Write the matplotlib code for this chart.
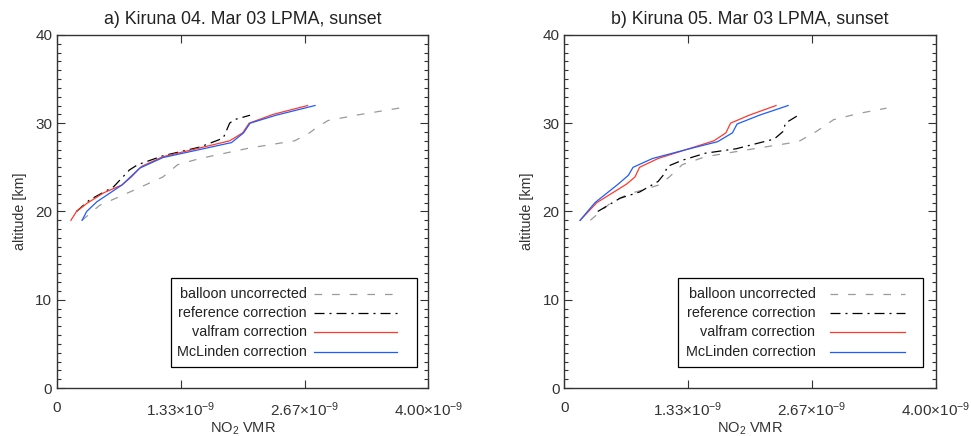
import numpy as np
import matplotlib
matplotlib.use('Agg')
from matplotlib import pyplot as plt
from matplotlib.ticker import FixedLocator, MultipleLocator
from matplotlib.lines import Line2D
from matplotlib.patches import Rectangle

plt.rcParams['font.family'] = ['Liberation Sans', 'DejaVu Sans']
plt.rcParams['mathtext.fontset'] = 'custom'
plt.rcParams['mathtext.rm'] = 'Liberation Sans'
plt.rcParams['mathtext.it'] = 'Liberation Sans'

# ---- panel a) Kiruna 04. Mar 03 (NO2 VMR in 1e-9, altitude in km)
a_ball_x = [0.27, 0.46, 0.70, 1.14, 1.30, 1.54, 2.08, 2.56, 2.72, 2.81, 2.92, 3.22, 3.74]
a_ball_z = [19.0, 20.7, 21.8, 23.9, 25.3, 26.0, 27.2, 28.0, 28.9, 29.6, 30.3, 30.9, 31.8]
a_ref_x = [0.21, 0.35, 0.61, 0.78, 0.87, 1.14, 1.54, 1.79, 1.86, 1.91, 2.08]
a_ref_z = [20.0, 21.3, 22.8, 24.7, 25.3, 26.3, 27.3, 28.3, 30.0, 30.4, 30.9]
a_val_x = [0.15, 0.21, 0.32, 0.50, 0.70, 0.80, 0.91, 1.14, 1.54, 1.86, 2.00, 2.07, 2.33, 2.70]
a_val_z = [19.0, 20.0, 20.9, 22.1, 23.0, 23.9, 25.1, 26.2, 27.2, 28.0, 28.9, 30.0, 31.0, 32.0]
a_mcl_x = [0.27, 0.32, 0.43, 0.70, 0.89, 1.14, 1.88, 2.01, 2.08, 2.36, 2.78]
a_mcl_z = [19.0, 20.0, 21.1, 23.0, 24.9, 26.1, 27.8, 28.9, 30.0, 30.9, 32.0]

# ---- panel b) Kiruna 05. Mar 03
b_ball_x = [0.28, 0.49, 0.67, 1.02, 1.13, 1.27, 1.52, 1.92, 2.52, 2.72, 2.90, 3.17, 3.47]
b_ball_z = [19.0, 20.9, 21.9, 23.0, 23.9, 25.3, 26.2, 26.9, 27.9, 29.1, 30.4, 31.1, 31.7]
b_ref_x = [0.36, 0.60, 0.81, 1.01, 1.08, 1.11, 1.27, 1.52, 1.85, 2.26, 2.36, 2.38, 2.52]
b_ref_z = [20.0, 21.5, 22.2, 23.4, 24.3, 25.1, 25.8, 26.6, 27.1, 28.2, 29.1, 30.0, 30.9]
b_val_x = [0.17, 0.35, 0.67, 0.76, 0.81, 1.01, 1.31, 1.61, 1.74, 1.79, 1.99, 2.28]
b_val_z = [19.0, 21.0, 23.1, 23.9, 25.0, 26.0, 27.0, 28.0, 28.9, 30.0, 30.9, 32.0]
b_mcl_x = [0.17, 0.33, 0.58, 0.69, 0.74, 0.95, 1.31, 1.65, 1.81, 1.86, 2.10, 2.41]
b_mcl_z = [19.0, 21.0, 23.1, 24.1, 25.0, 26.0, 27.0, 27.9, 28.9, 29.9, 30.9, 32.0]

titles = ['a) Kiruna 04. Mar 03 LPMA, sunset', 'b) Kiruna 05. Mar 03 LPMA, sunset']
labels = ['balloon uncorrected', 'reference correction', 'valfram correction', 'McLinden correction']
xticks = [0, 1.333e-9, 2.667e-9, 4.0e-9]
xticklabels = ['0', r'$1.33{\times}10^{-9}$', r'$2.67{\times}10^{-9}$', r'$4.00{\times}10^{-9}$']

styles = [dict(color='#9a9a9a', lw=0.9, dashes=(6.1, 8)),
          dict(color='black', lw=0.9, dashes=(8, 4, 1.6, 4)),
          dict(color='#ff3a2a', lw=0.9),
          dict(color='#1f5cff', lw=0.9)]

panels = [
    [(a_ball_x, a_ball_z), (a_ref_x, a_ref_z), (a_val_x, a_val_z), (a_mcl_x, a_mcl_z)],
    [(b_ball_x, b_ball_z), (b_ref_x, b_ref_z), (b_val_x, b_val_z), (b_mcl_x, b_mcl_z)],
]

fig = plt.figure(figsize=(9.71, 4.36), dpi=100)
ax_pos = [[0.0587, 0.110, 0.3824, 0.810], [0.5812, 0.110, 0.3825, 0.810]]

for i in range(2):
    ax = fig.add_axes(ax_pos[i])
    for (x, z), st in zip(panels[i], styles):
        ax.plot(np.array(x) * 1e-9, z, **st)
    ax.set_xlim(0, 4.0e-9)
    ax.set_ylim(0, 40)
    ax.xaxis.set_major_locator(FixedLocator(xticks))
    ax.set_xticklabels(xticklabels)
    ax.yaxis.set_major_locator(MultipleLocator(10))
    ax.yaxis.set_minor_locator(MultipleLocator(1))
    ax.tick_params(axis='both', which='both', direction='in', top=True, right=True,
                   labelsize=11, labelcolor='#333333', color='#333333')
    ax.tick_params(axis='both', which='major', length=6, width=0.8)
    ax.tick_params(axis='y', which='minor', length=3, width=0.8)
    ax.tick_params(axis='x', which='major', pad=9)
    ax.tick_params(axis='y', which='major', pad=3.5)
    for sp in ax.spines.values():
        sp.set_color('#333333')
        sp.set_linewidth(1.0)
    ax.set_title(titles[i], fontsize=12.8, color='#222222', pad=8)
    ax.set_xlabel(r'NO$_2$ VMR', fontsize=10.5, color='#333333', labelpad=1)
    ax.set_ylabel('altitude [km]', fontsize=10.3, color='#333333', labelpad=6)

    # legend box drawn by hand: labels right aligned, line samples after them
    x0, x1 = (0.307, 0.970) if i == 0 else (0.305, 0.967)
    ax.add_patch(Rectangle((x0, 0.059), x1 - x0, 0.253, transform=ax.transAxes,
                           fill=False, edgecolor='black', lw=0.9, zorder=5))
    rows = [0.266, 0.212, 0.158, 0.103]
    tx = 0.672 if i == 0 else 0.676
    lx0 = 0.692 if i == 0 else 0.714
    for y, lab, st in zip(rows, labels, styles):
        ax.text(tx, y, lab, transform=ax.transAxes, ha='right', va='center',
                fontsize=10.4, color='#222222')
        ax.add_line(Line2D([lx0, 0.916], [y, y], transform=ax.transAxes, **st))

fig.savefig('out.png', dpi=100)
